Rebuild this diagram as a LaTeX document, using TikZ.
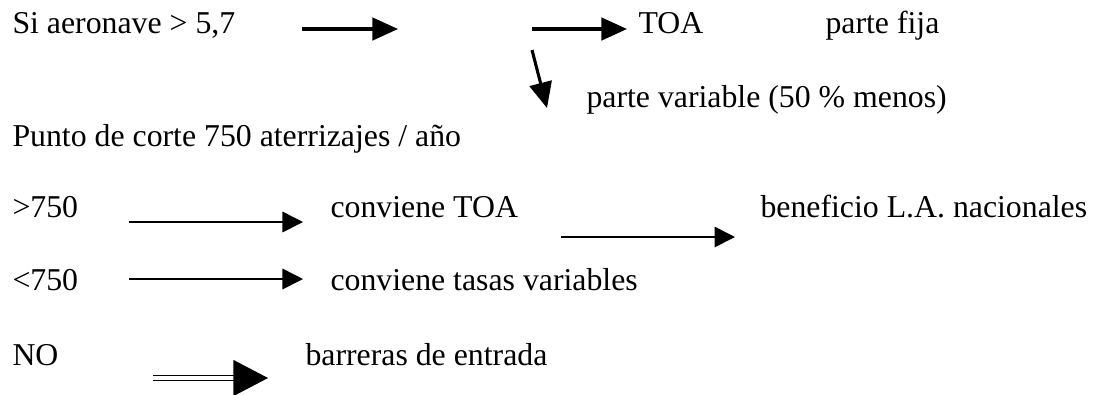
\documentclass[tikz,border=0pt]{standalone}
\usepackage{fontspec}
\setmainfont{Liberation Serif}
\usetikzlibrary{arrows.meta}

\begin{document}
\begin{tikzpicture}[x=0.39pt, y=-0.39pt,
                every node/.style={anchor=base west, inner sep=0pt, font=\fontsize{12.4}{15}\selectfont},
                heavy/.style={line width=1.2pt, -{Triangle[length=10pt, width=8.8pt]}},
                light/.style={line width=0.6pt, -{Triangle[length=8pt, width=8pt]}},
                twin/.style={double, line width=0.6pt, double distance=1.2pt, -{Triangle[length=13.5pt, width=14pt]}}]

                \useasboundingbox (0,0) rectangle (1096,394);

                \node (si) at (12,33) {Si aeronave > 5,7};
                \node (toa) at (638,33) {TOA};
                \node (fija) at (825,33) {parte fija};
                \node (variable) at (586,107) {parte variable (50 \% menos)};
                \node (corte) at (12,146) {Punto de corte 750 aterrizajes / año};
                \node (mas) at (12,217) {>750};
                \node (convtoa) at (330,217) {conviene TOA};
                \node (benef) at (760,217) {beneficio L.A. nacionales};
                \node (menos) at (12,290) {<750};
                \node (convtasas) at (330,290) {conviene tasas variables};
                \node (no) at (12,365) {NO};
                \node (barreras) at (305,365) {barreras de entrada};

                % free arrow ends
                \coordinate (a1) at (302,29);  \coordinate (a2) at (398,29);
                \coordinate (b1) at (532,29);  \coordinate (b2) at (627,29);
                \coordinate (c1) at (532,50);  \coordinate (c2) at (547,108);
                \coordinate (d1) at (129,222); \coordinate (d2) at (303,222);
                \coordinate (e1) at (561,237); \coordinate (e2) at (735,237);
                \coordinate (f1) at (129,279); \coordinate (f2) at (303,279);
                \coordinate (g1) at (153,378); \coordinate (g2) at (268,378);

                \path
                    (a1) edge [heavy] (a2) % after Si aeronave
                    (b1) edge [heavy] (b2) % to TOA
                    (c1) edge [heavy] (c2) % down to parte variable
                    (d1) edge [light] (d2) % >750
                    (e1) edge [light] (e2) % to beneficio
                    (f1) edge [light] (f2) % <750
                    (g1) edge [twin] (g2); % NO
                
\end{tikzpicture}
\end{document}
